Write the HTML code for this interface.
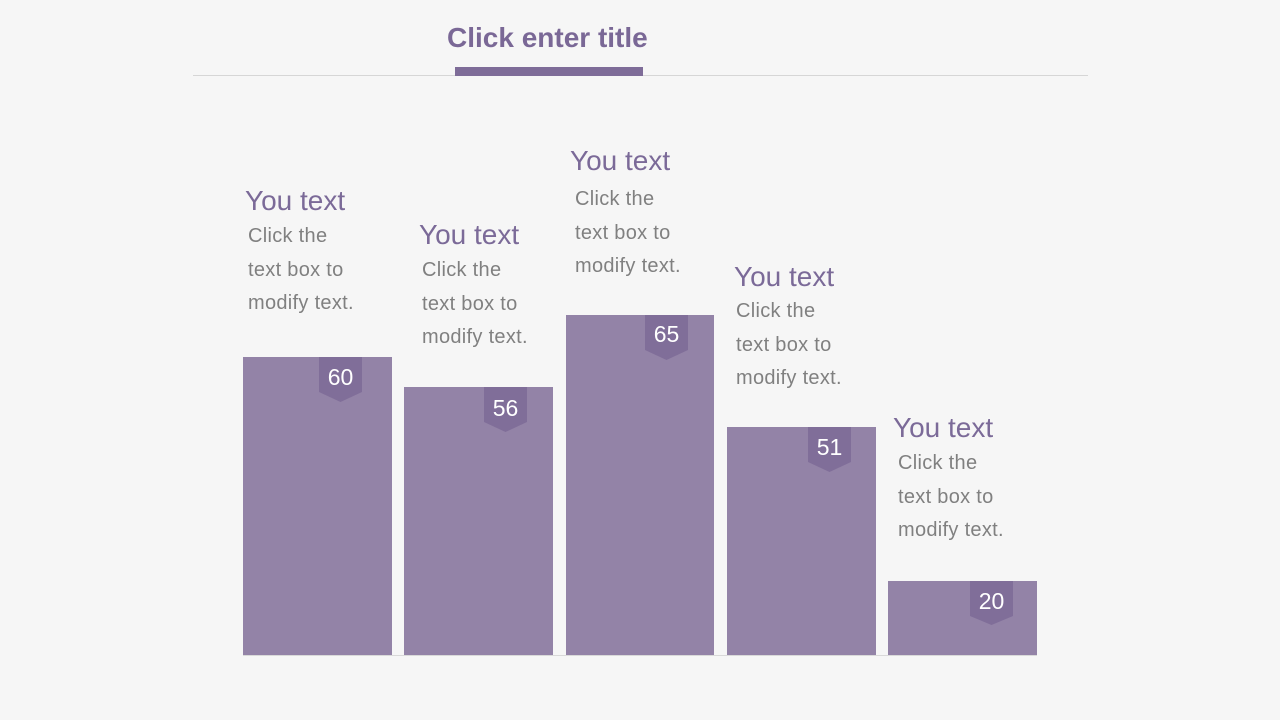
<!DOCTYPE html>
<html>
<head>
<meta charset="utf-8">
<style>
  html,body{margin:0;padding:0;}
  body{width:1280px;height:720px;overflow:hidden;background:#f6f6f6;}
  svg{display:block;}
  .h{font-family:"Liberation Sans",sans-serif;font-size:28px;fill:#7b6a98;}
  .b{font-family:"Liberation Sans",sans-serif;font-size:20px;fill:#808080;letter-spacing:0.3px;}
  .n{font-family:"Liberation Sans",sans-serif;font-size:23px;fill:#ffffff;text-anchor:middle;}
  .t{font-family:"Liberation Sans",sans-serif;font-size:28px;font-weight:bold;fill:#7a6896;}
</style>
</head>
<body>
<svg width="1280" height="720" viewBox="0 0 1280 720" xmlns="http://www.w3.org/2000/svg">
  <rect x="0" y="0" width="1280" height="720" fill="#f6f6f6"/>
  <!-- title -->
  <text class="t" x="447" y="47">Click enter title</text>
  <rect x="193" y="75" width="895" height="1" fill="#d6d6d6"/>
  <rect x="455" y="67" width="188" height="9" fill="#7e6c98"/>

  <!-- baseline -->
  <rect x="243" y="655" width="794" height="1" fill="#d9d9d9"/>

  <!-- bars -->
  <g fill="#9383a7">
    <rect x="243" y="357" width="149" height="298"/>
    <rect x="404" y="387" width="149" height="268"/>
    <rect x="566" y="315" width="148" height="340"/>
    <rect x="727" y="427" width="149" height="228"/>
    <rect x="888" y="581" width="149" height="74"/>
  </g>

  <!-- badges -->
  <g fill="#806e99">
    <polygon points="319,357 362,357 362,392 340.5,402 319,392"/>
    <polygon points="484,387 527,387 527,422 505.5,432 484,422"/>
    <polygon points="645,315 688,315 688,350 666.5,360 645,350"/>
    <polygon points="808,427 851,427 851,462 829.5,472 808,462"/>
    <polygon points="970,581 1013,581 1013,616 991.5,625 970,616"/>
  </g>
  <text class="n" x="340.5" y="385">60</text>
  <text class="n" x="505.5" y="416">56</text>
  <text class="n" x="666.5" y="342">65</text>
  <text class="n" x="829.5" y="455">51</text>
  <text class="n" x="991.5" y="609">20</text>

  <!-- column 1 -->
  <text class="h" x="245" y="210">You text</text>
  <text class="b" x="248" y="242">Click the</text>
  <text class="b" x="248" y="276">text box to</text>
  <text class="b" x="248" y="309">modify text.</text>

  <!-- column 2 -->
  <text class="h" x="419" y="244">You text</text>
  <text class="b" x="422" y="276">Click the</text>
  <text class="b" x="422" y="310">text box to</text>
  <text class="b" x="422" y="343">modify text.</text>

  <!-- column 3 -->
  <text class="h" x="570" y="170">You text</text>
  <text class="b" x="575" y="205">Click the</text>
  <text class="b" x="575" y="239">text box to</text>
  <text class="b" x="575" y="272">modify text.</text>

  <!-- column 4 -->
  <text class="h" x="734" y="286">You text</text>
  <text class="b" x="736" y="317">Click the</text>
  <text class="b" x="736" y="351">text box to</text>
  <text class="b" x="736" y="384">modify text.</text>

  <!-- column 5 -->
  <text class="h" x="893" y="437">You text</text>
  <text class="b" x="898" y="469">Click the</text>
  <text class="b" x="898" y="503">text box to</text>
  <text class="b" x="898" y="536">modify text.</text>
</svg>
</body>
</html>
